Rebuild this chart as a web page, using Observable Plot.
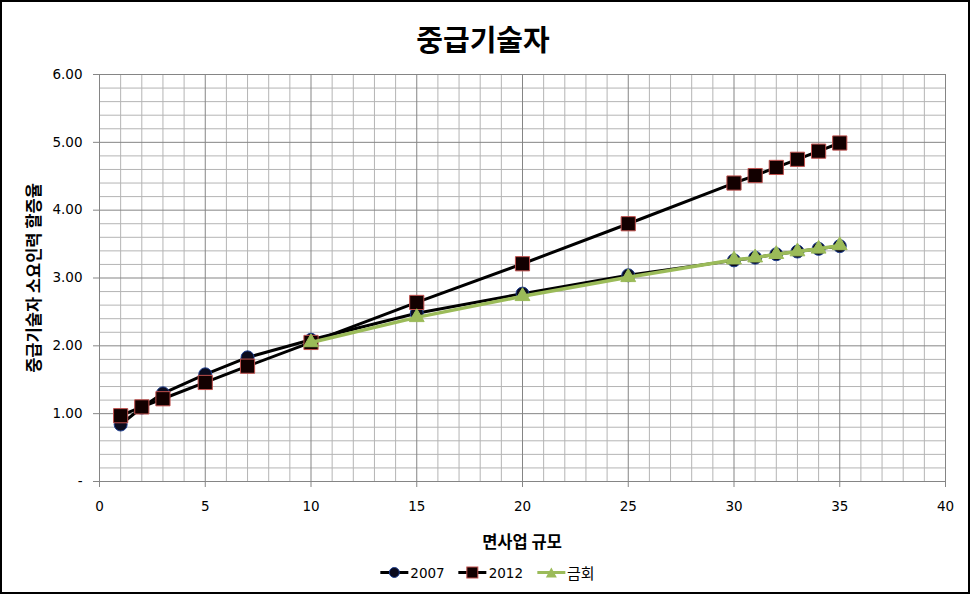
<!DOCTYPE html>
<html><head><meta charset="utf-8">
<script src="https://cdn.jsdelivr.net/npm/d3@7"></script>
<script src="https://cdn.jsdelivr.net/npm/@observablehq/plot@0.6"></script>
<style>
body{margin:0;background:#fff;font-family:"Noto Sans CJK KR","Noto Sans",sans-serif;}
#wrap{position:relative;width:970px;height:594px;box-sizing:border-box;border:2px solid #000;background:#fff;overflow:hidden;}
#title{position:absolute;left:481px;top:36px;transform:translate(-50%,-50%);font-size:29px;font-weight:bold;white-space:nowrap;color:#000;}
#chart{position:absolute;left:0;top:54px;}
#ylab{position:absolute;left:31px;top:276px;transform:translate(-50%,-50%) rotate(-90deg);font-size:16.5px;font-weight:bold;white-space:nowrap;color:#000;}
#xlab{position:absolute;left:520px;top:539px;transform:translate(-50%,-50%);font-size:16.5px;font-weight:bold;white-space:nowrap;color:#000;}
#legend{position:absolute;left:485px;top:570px;transform:translate(-50%,-50%);display:flex;gap:13px;align-items:center;font-size:15px;white-space:nowrap;color:#000;}
.li{display:flex;align-items:center;gap:1px;}
.num{font-family:"DejaVu Sans",sans-serif;font-size:13.5px;}
</style>
</head><body>
<div id="wrap">
  <div id="title"></div>
  <div id="chart"></div>
  <div id="ylab"></div>
  <div id="xlab"></div>
  <div id="legend"></div>
</div>
<script>
const titleText = "중급기술자";
const yLabel = "중급기술자 소요인력 할증율";
const xLabel = "면사업 규모";
const seriesNames = ["2007", "2012", "금회"];

const x2007 = [1, 2, 3, 5, 7, 10, 15, 20, 25, 30, 31, 32, 33, 34, 35];
const v2007 = [0.84, 1.09, 1.30, 1.58, 1.83, 2.09, 2.48, 2.77, 3.04, 3.26, 3.30, 3.35, 3.39, 3.43, 3.47];
const x2012 = [1, 2, 3, 5, 7, 10, 15, 20, 25, 30, 31, 32, 33, 34, 35];
const v2012 = [0.97, 1.10, 1.22, 1.46, 1.70, 2.05, 2.64, 3.21, 3.80, 4.40, 4.51, 4.63, 4.75, 4.87, 4.99];
const xNow = [10, 15, 20, 25, 30, 31, 32, 33, 34, 35];
const vNow = [2.05, 2.42, 2.73, 3.01, 3.27, 3.30, 3.35, 3.39, 3.43, 3.48];

const xTicks = [0, 5, 10, 15, 20, 25, 30, 35, 40];
const yTicks = [0, 1, 2, 3, 4, 5, 6];
const xGrid = d3.range(0, 41);
const yGrid = d3.range(0, 31).map(i => i / 5);

const d2007 = x2007.map((x, i) => ({x, y: v2007[i]}));
const d2012 = x2012.map((x, i) => ({x, y: v2012[i]}));
const dNow = xNow.map((x, i) => ({x, y: vNow[i]}));

const minorC = "#b4b4b4", majorC = "#858585";

const plot = Plot.plot({
  width: 966,
  height: 500,
  marginTop: 18,
  marginBottom: 75,
  marginLeft: 97,
  marginRight: 23,
  style: {fontFamily: '"DejaVu Sans",sans-serif', fontSize: "13.5px", color: "#000", background: "#fff"},
  x: {domain: [0, 40]},
  y: {domain: [0, 6]},
  marks: [
    Plot.ruleX(xGrid.filter(v => v % 5 !== 0), {stroke: minorC, strokeWidth: 1}),
    Plot.ruleY(yGrid.filter(v => Math.abs(v - Math.round(v)) > 1e-6), {stroke: minorC, strokeWidth: 1}),
    Plot.ruleX(xTicks, {stroke: majorC, strokeWidth: 1}),
    Plot.ruleY(yTicks, {stroke: majorC, strokeWidth: 1}),
    Plot.axisX(xTicks, {tickSize: 6, tickPadding: 14, label: null, stroke: majorC, fill: "#000"}),
    Plot.axisY(yTicks, {tickSize: 6, tickPadding: 11, label: null, stroke: majorC, fill: "#000",
      tickFormat: d => d === 0 ? "-" : d.toFixed(2)}),
    Plot.line(d2007, {x: "x", y: "y", stroke: "#000", strokeWidth: 3}),
    Plot.dot(d2007, {x: "x", y: "y", symbol: "circle", r: 6.5, fill: "#0b0b1e", stroke: "#1f3f8f", strokeWidth: 1}),
    Plot.line(d2012, {x: "x", y: "y", stroke: "#000", strokeWidth: 3}),
    Plot.dot(d2012, {x: "x", y: "y", symbol: "square", r: 8, fill: "#120000", stroke: "#c0504d", strokeWidth: 1}),
    Plot.line(dNow, {x: "x", y: "y", stroke: "#9bbb59", strokeWidth: 3.5}),
    Plot.dot(dNow, {x: "x", y: "y", symbol: "triangle", r: 5.5, fill: "#9bbb59", stroke: "#9bbb59", strokeWidth: 1})
  ]
});
document.getElementById("chart").appendChild(plot);
document.getElementById("title").textContent = titleText;
document.getElementById("ylab").textContent = yLabel;
document.getElementById("xlab").textContent = xLabel;

const legendDefs = [
  {name: seriesNames[0], num: true, line: "#000", mark: '<circle cx="15" cy="7" r="5" fill="#0b0b1e" stroke="#1f3f8f"/>'},
  {name: seriesNames[1], num: true, line: "#000", mark: '<rect x="9.5" y="1.5" width="11" height="11" fill="#120000" stroke="#c0504d"/>'},
  {name: seriesNames[2], num: false, line: "#9bbb59", mark: '<path d="M15 2 L20.5 12 L9.5 12 Z" fill="#9bbb59"/>'}
];
const leg = document.getElementById("legend");
legendDefs.forEach(d => {
  const item = document.createElement("div");
  item.className = "li";
  item.innerHTML = `<svg width="30" height="14"><line x1="1" x2="29" y1="7" y2="7" stroke="${d.line}" stroke-width="3"/>${d.mark}</svg><span class="${d.num ? "num" : ""}">${d.name}</span>`;
  leg.appendChild(item);
});
</script>
</body></html>
